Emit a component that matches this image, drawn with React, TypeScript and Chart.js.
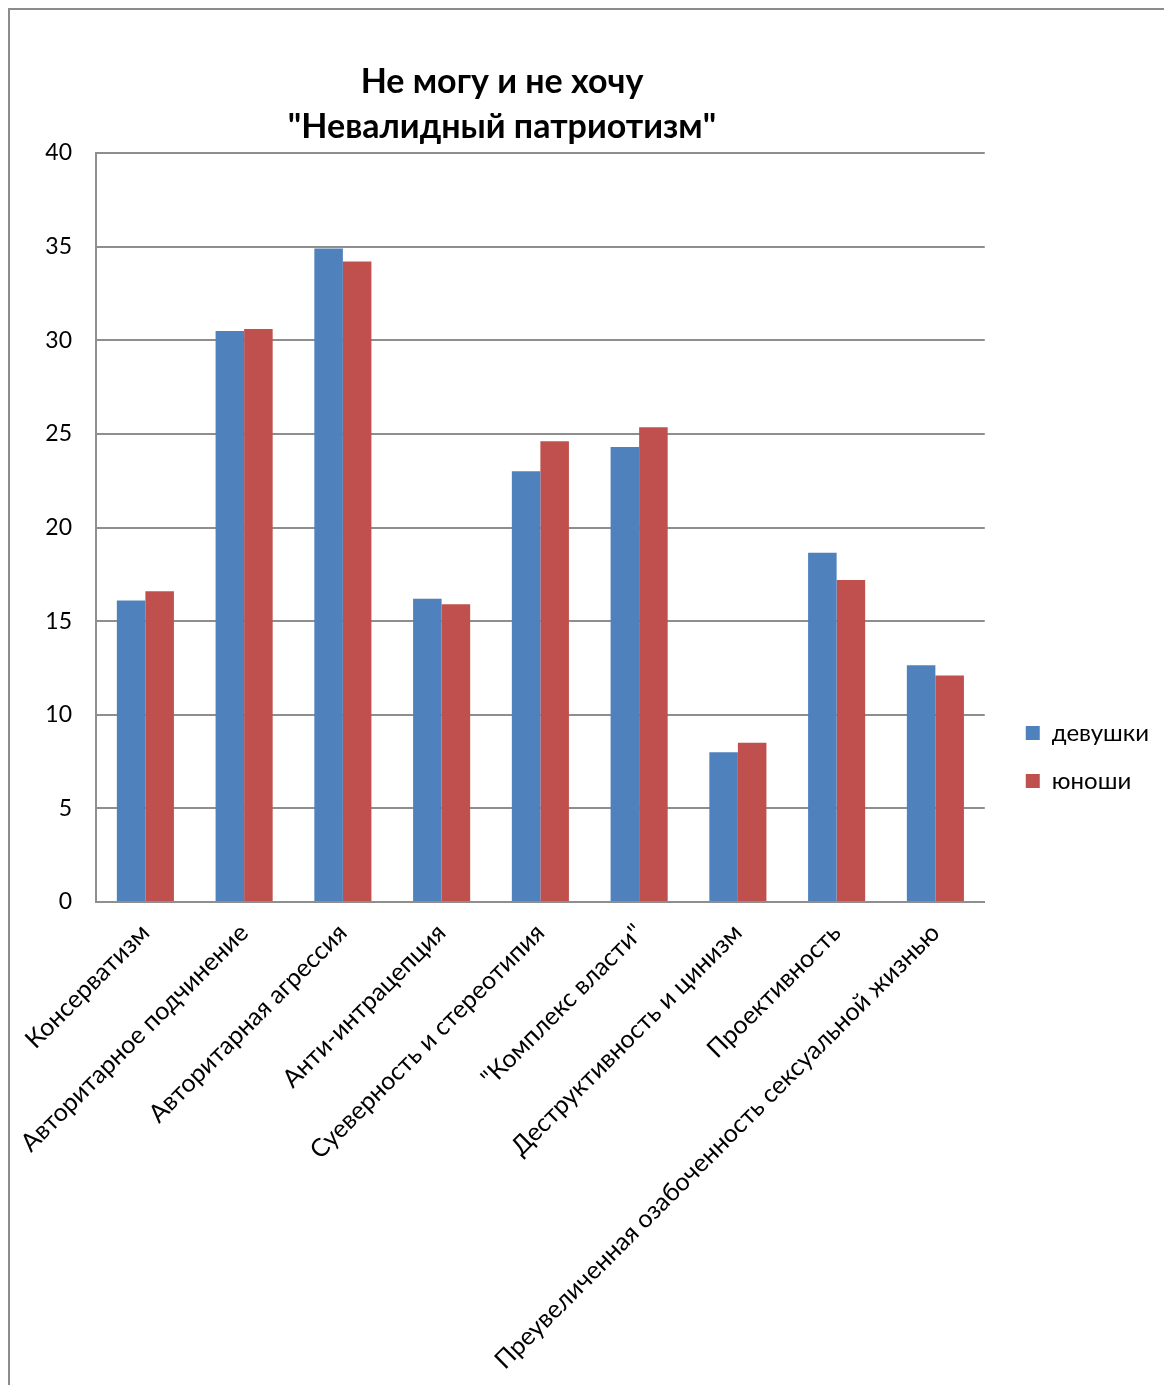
import React, { useEffect, useRef } from 'react';
import { Chart, registerables } from 'chart.js';

Chart.register(...registerables);

const categories = [
  'Консерватизм',
  'Авторитарное подчинение',
  'Авторитарная агрессия',
  'Анти-интрацепция',
  'Суеверность и стереотипия',
  '"Комплекс власти"',
  'Деструктивность и цинизм',
  'Проективность',
  'Преувеличенная озабоченность сексуальной жизнью',
];
const girls = [16.1, 30.5, 34.9, 16.2, 23.0, 24.3, 8.0, 18.65, 12.65];
const boys = [16.6, 30.6, 34.2, 15.9, 24.6, 25.35, 8.5, 17.2, 12.1];
const seriesNames = ['девушки', 'юноши'];
const titleLines = ['Не могу и не хочу', '"Невалидный патриотизм"'];
const yMin = 0;
const yMax = 40;
const yStep = 5;

const W = 1164;
const H = 1385;
const FONT = 'Lato, "Open Sans", sans-serif';
const GRID = '#8e8e8e';

const tweaks = {
  id: 'tweaks',
  afterLayout(chart: any) {
    const t = chart.titleBlock;
    if (t) {
      t.left = 9;
      t.right = 995;
      t.width = t.right - t.left;
    }
    const lg = chart.legend;
    if (lg) {
      const dx = chart.chartArea.right + 17 - lg.left;
      lg.left += dx;
      lg.right += dx;
      lg.top = 697;
    }
  },
  beforeDraw(chart: any) {
    const ctx = chart.ctx;
    ctx.save();
    ctx.fillStyle = '#ffffff';
    ctx.fillRect(0, 0, W, H);
    ctx.strokeStyle = '#8c8c8c';
    ctx.lineWidth = 2;
    ctx.strokeRect(9, 9, W + 20, H + 20);
    ctx.restore();
  },
};

export default function App() {
  const ref = useRef<HTMLCanvasElement>(null);
  useEffect(() => {
    if (!ref.current) return;
    const chart = new Chart(ref.current, {
      type: 'bar',
      data: {
        labels: categories,
        datasets: [
          { label: seriesNames[0], data: girls, backgroundColor: '#4F81BD', borderWidth: 0 },
          { label: seriesNames[1], data: boys, backgroundColor: '#C0504D', borderWidth: 0 },
        ],
      },
      options: {
        responsive: false,
        animation: false,
        layout: { padding: { left: 0, right: 22, top: 0, bottom: 0 } },
        datasets: { bar: { categoryPercentage: 0.578, barPercentage: 1 } },
        scales: {
          x: {
            grid: { display: false, drawTicks: false },
            border: { display: true, color: GRID, width: 2 },
            ticks: {
              autoSkip: false,
              maxRotation: 45,
              minRotation: 45,
              padding: 16,
              color: '#000',
              font: { family: FONT, size: 25 },
            },
            afterFit: (s: any) => {
              s.height = H - 902;
            },
          },
          y: {
            min: yMin,
            max: yMax,
            ticks: {
              stepSize: yStep,
              padding: 24,
              color: '#000',
              font: { family: FONT, size: 23 },
            },
            grid: { color: GRID, lineWidth: 2, drawTicks: false },
            border: { display: true, color: GRID, width: 2 },
            afterFit: (s: any) => {
              s.width = 96;
            },
          },
        },
        plugins: {
          title: {
            display: true,
            text: titleLines,
            color: '#000',
            font: { family: FONT, size: 34, weight: 'bold', lineHeight: 45 / 34 },
            padding: { top: 60, bottom: 3 },
          },
          legend: {
            position: 'right',
            align: 'start',
            labels: {
              boxWidth: 14,
              boxHeight: 14,
              padding: 24,
              color: '#000',
              font: { family: FONT, size: 24 },
            },
          },
          tooltip: { enabled: false },
        },
      },
      plugins: [tweaks],
    });
    return () => chart.destroy();
  }, []);
  return (
    <div style={{ position: 'fixed', left: 0, top: 0, width: W, height: H }}>
      <canvas ref={ref} width={W} height={H} style={{ display: 'block' }} />
    </div>
  );
}
